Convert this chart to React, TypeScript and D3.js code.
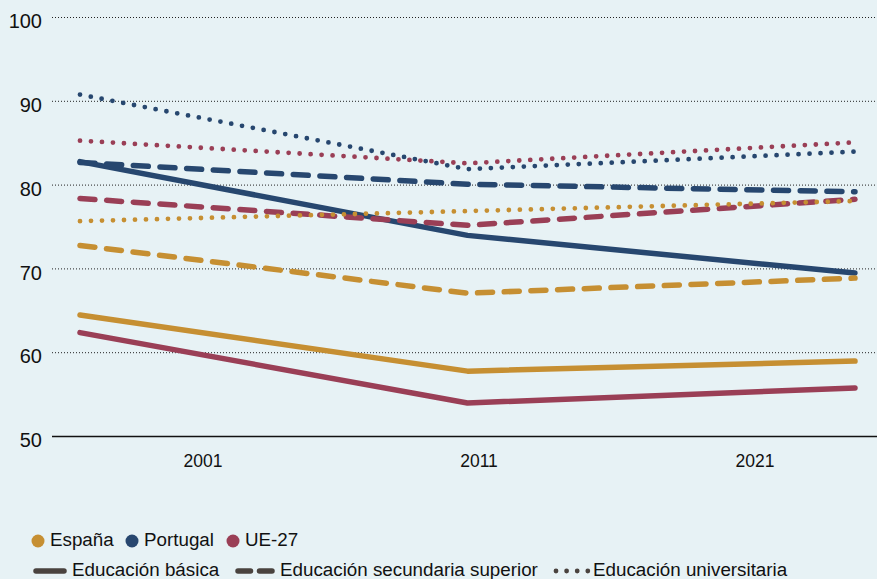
import * as d3 from 'd3';
import { useEffect, useRef } from 'react';

const years = ['2001', '2011', '2021'];
const countries = ['España', 'Portugal', 'UE-27'];
const levels = ['Educación básica', 'Educación secundaria superior', 'Educación universitaria'];
const yTicks = [50, 60, 70, 80, 90, 100];

// tasa por nivel educativo y país
const basicaEspana = [64.5, 57.8, 59.0];
const basicaPortugal = [82.8, 74.0, 69.5];
const basicaUE = [62.4, 54.0, 55.8];
const secundariaEspana = [72.8, 67.1, 68.9];
const secundariaPortugal = [82.7, 80.1, 79.2];
const secundariaUE = [78.4, 75.2, 78.3];
const universitariaEspana = [75.7, 76.9, 78.1];
const universitariaPortugal = [90.8, 81.9, 84.0];
const universitariaUE = [85.3, 82.6, 85.1];

const series = [
  { country: 'España', level: 'Educación básica', values: basicaEspana },
  { country: 'Portugal', level: 'Educación básica', values: basicaPortugal },
  { country: 'UE-27', level: 'Educación básica', values: basicaUE },
  { country: 'España', level: 'Educación secundaria superior', values: secundariaEspana },
  { country: 'Portugal', level: 'Educación secundaria superior', values: secundariaPortugal },
  { country: 'UE-27', level: 'Educación secundaria superior', values: secundariaUE },
  { country: 'España', level: 'Educación universitaria', values: universitariaEspana },
  { country: 'Portugal', level: 'Educación universitaria', values: universitariaPortugal },
  { country: 'UE-27', level: 'Educación universitaria', values: universitariaUE },
];

const colors: Record<string, string> = {
  'España': '#c68f32',
  'Portugal': '#27476f',
  'UE-27': '#9a3f56',
};

const dashes: Record<string, string | null> = {
  'Educación básica': null,
  'Educación secundaria superior': '15 11.7',
  'Educación universitaria': '0 11',
};

const widths: Record<string, number> = {
  'Educación básica': 5.5,
  'Educación secundaria superior': 5.5,
  'Educación universitaria': 4.8,
};

export default function App() {
  const ref = useRef<HTMLDivElement>(null);
  const width = 877;
  const height = 579;
  const font = '"Liberation Sans", Arial, sans-serif';

  useEffect(() => {
    if (!ref.current) return;
    document.body.style.margin = '0';

    const svg = d3
      .create('svg')
      .attr('width', width)
      .attr('height', height)
      .style('display', 'block')
      .style('font-family', font);

    svg.append('rect').attr('width', width).attr('height', height).attr('fill', '#e7f2f5');

    const y = d3.scaleLinear().domain([50, 100]).range([436.5, 17.5]);
    const xLine = d3.scalePoint<string>().domain(years).range([80, 855]);
    const xLabel = d3.scaleBand<string>().domain(years).range([65, 893]);

    // líneas de cuadrícula
    svg
      .append('g')
      .selectAll('line')
      .data(yTicks.filter((d) => d !== 50))
      .join('line')
      .attr('x1', 52)
      .attr('x2', width)
      .attr('y1', (d) => y(d))
      .attr('y2', (d) => y(d))
      .attr('stroke', '#222')
      .attr('stroke-width', 1)
      .attr('stroke-dasharray', '1 2');

    // línea base
    svg
      .append('line')
      .attr('x1', 52)
      .attr('x2', width)
      .attr('y1', y(50))
      .attr('y2', y(50))
      .attr('stroke', '#111')
      .attr('stroke-width', 1.5);

    // etiquetas eje y
    svg
      .append('g')
      .selectAll('text')
      .data(yTicks)
      .join('text')
      .attr('x', 42)
      .attr('y', (d) => y(d) + 5.5)
      .attr('text-anchor', 'end')
      .attr('dominant-baseline', 'middle')
      .attr('font-size', 20)
      .attr('fill', '#111')
      .text((d) => d);

    // etiquetas eje x
    svg
      .append('g')
      .selectAll('text')
      .data(years)
      .join('text')
      .attr('x', (d) => xLabel(d)! + xLabel.bandwidth() / 2)
      .attr('y', 462)
      .attr('text-anchor', 'middle')
      .attr('dominant-baseline', 'middle')
      .attr('font-size', 17.5)
      .attr('fill', '#111')
      .text((d) => d);

    const line = d3
      .line<number>()
      .x((_, i) => xLine(years[i])!)
      .y((d) => y(d));

    svg
      .append('g')
      .selectAll('path')
      .data(series)
      .join('path')
      .attr('d', (d) => line(d.values))
      .attr('fill', 'none')
      .attr('stroke', (d) => colors[d.country])
      .attr('stroke-width', (d) => widths[d.level])
      .attr('stroke-linecap', 'round')
      .attr('stroke-linejoin', 'round')
      .attr('stroke-dasharray', (d) => dashes[d.level]);

    // leyenda países
    const legendCountryX = [38, 132, 233];
    const lc = svg
      .append('g')
      .selectAll('g')
      .data(countries)
      .join('g')
      .attr('transform', (_, i) => `translate(${legendCountryX[i]},541)`);
    lc.append('circle').attr('r', 6.5).attr('fill', (d) => colors[d]);
    lc.append('text')
      .attr('x', 12)
      .attr('dominant-baseline', 'middle')
      .attr('font-size', 18.8)
      .attr('fill', '#111')
      .text((d) => d);

    // leyenda niveles
    const legendLevelX = [33, 235, 553];
    const swatchEnd = [31, 37, 35];
    const textX = [39, 45, 40];
    const ll = svg
      .append('g')
      .selectAll('g')
      .data(levels)
      .join('g')
      .attr('transform', (_, i) => `translate(${legendLevelX[i]},571)`);
    ll.append('line')
      .attr('x1', 3)
      .attr('x2', (_, i) => swatchEnd[i])
      .attr('stroke', '#4a433f')
      .attr('stroke-width', (d) => widths[d])
      .attr('stroke-linecap', 'round')
      .attr('stroke-dasharray', (d) =>
        d === 'Educación secundaria superior' ? '12.5 9' : d === 'Educación universitaria' ? '0 10.6' : null
      );
    ll.append('text')
      .attr('x', (_, i) => textX[i])
      .attr('dominant-baseline', 'middle')
      .attr('font-size', 18.8)
      .attr('fill', '#111')
      .text((d) => d);

    ref.current.innerHTML = '';
    ref.current.appendChild(svg.node()!);
  }, [ref]);

  return <div ref={ref} />;
}
